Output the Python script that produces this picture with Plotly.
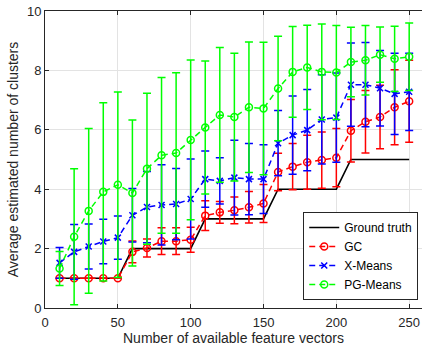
import plotly.graph_objects as go

n_vectors = [10, 20, 30, 40, 50, 60, 70, 80, 90, 100, 110, 120, 130, 140, 150,
             160, 170, 180, 190, 200, 210, 220, 230, 240, 250]

ground_truth = [1, 1, 1, 1, 1, 2, 2, 2, 2, 2, 3, 3, 3, 3, 3,
                4, 4, 4, 4, 4, 5, 5, 5, 5, 5]

gc_mean = [1.0, 1.0, 1.0, 1.0, 1.0, 1.89, 2.02, 2.25, 2.25, 2.30, 3.11, 3.22, 3.29, 3.39, 3.52,
           4.58, 4.76, 4.91, 4.98, 5.06, 5.97, 6.27, 6.43, 6.76, 6.96]
gc_std = [0.0, 0.0, 0.0, 0.0, 0.0, 0.37, 0.30, 0.45, 0.45, 0.42, 0.50, 0.37, 0.45, 0.53, 0.64,
          0.63, 0.78, 0.91, 0.95, 0.98, 1.05, 1.05, 1.07, 1.26, 1.38]

xm_mean = [1.52, 1.89, 2.07, 2.24, 2.37, 3.12, 3.40, 3.47, 3.50, 3.67, 4.34, 4.28, 4.39, 4.34, 4.34,
           5.55, 5.82, 5.99, 6.35, 6.41, 7.52, 7.52, 7.40, 7.21, 7.28]
xm_std = [0.52, 0.92, 0.76, 0.75, 0.73, 0.90, 1.20, 1.35, 1.20, 1.35, 0.95, 0.78, 1.26, 1.20, 1.16,
          1.10, 1.32, 1.37, 1.50, 1.50, 1.40, 1.42, 1.27, 1.37, 1.30]

pg_mean = [1.33, 2.40, 3.27, 3.91, 4.15, 3.87, 4.69, 5.14, 5.22, 5.66, 6.08, 6.50, 6.43, 6.76, 6.72,
           7.39, 7.95, 8.10, 7.95, 7.93, 8.28, 8.34, 8.53, 8.39, 8.46]
pg_std = [0.57, 2.29, 2.77, 3.00, 3.12, 2.46, 2.54, 2.62, 2.70, 2.69, 2.24, 2.27, 2.15, 2.20, 2.23,
          1.76, 1.53, 1.42, 1.61, 1.58, 1.17, 1.17, 0.93, 1.10, 1.14]

FONT = "Liberation Sans, Arial, sans-serif"
AX = "#262626"
DASH = "6px,4px"

fig = go.Figure()

fig.add_trace(go.Scatter(
    x=n_vectors, y=ground_truth, mode="lines", name="Ground truth",
    line=dict(color="black", width=1.6)))

series = [
    ("GC", gc_mean, gc_std, "#FF0000", "circle-open", 7),
    ("X-Means", xm_mean, xm_std, "#0000FF", "x-thin-open", 6),
    ("PG-Means", pg_mean, pg_std, "#00FF00", "circle-open", 7),
]
for name, m, s, c, sym, sz in series:
    fig.add_trace(go.Scatter(
        x=n_vectors, y=m, mode="lines+markers", name=name,
        line=dict(color=c, width=1.5, dash=DASH),
        marker=dict(symbol=sym, size=sz, color=c, line=dict(color=c, width=1.5)),
        error_y=dict(type="data", array=s, visible=True, color=c,
                     thickness=1.5, width=4)))

fig.update_layout(
    width=422, height=352,
    margin=dict(l=45, r=0, t=11, b=44),
    paper_bgcolor="white", plot_bgcolor="white",
    font=dict(family=FONT, size=12, color=AX),
    showlegend=True,
    legend=dict(
        x=0.99, y=0.027, xanchor="right", yanchor="bottom",
        bgcolor="white", bordercolor=AX, borderwidth=1,
        font=dict(family=FONT, size=12, color="black"),
        itemwidth=30, tracegroupgap=0,
    ),
)

fig.update_xaxes(
    range=[0, 258.8], tickvals=[0, 50, 100, 150, 200, 250],
    showgrid=True, gridcolor="#E3E3E3", gridwidth=1,
    showline=True, linecolor=AX, linewidth=1, mirror="ticks",
    ticks="inside", ticklen=4, tickcolor=AX,
    zeroline=False, ticklabelstandoff=2,
    title=dict(text="Number of available feature vectors", font=dict(size=14, color=AX), standoff=3),
    tickfont=dict(size=13, color=AX),
)
fig.update_yaxes(
    range=[0, 10], tickvals=[0, 2, 4, 6, 8, 10],
    showgrid=True, gridcolor="#E3E3E3", gridwidth=1,
    showline=True, linecolor=AX, linewidth=1, mirror=False,
    ticks="inside", ticklen=4, tickcolor=AX,
    zeroline=False,
    title=dict(text="Average estimated number of clusters", font=dict(size=14, color=AX), standoff=5),
    tickfont=dict(size=13, color=AX),
)

fig.write_html("out.html")
